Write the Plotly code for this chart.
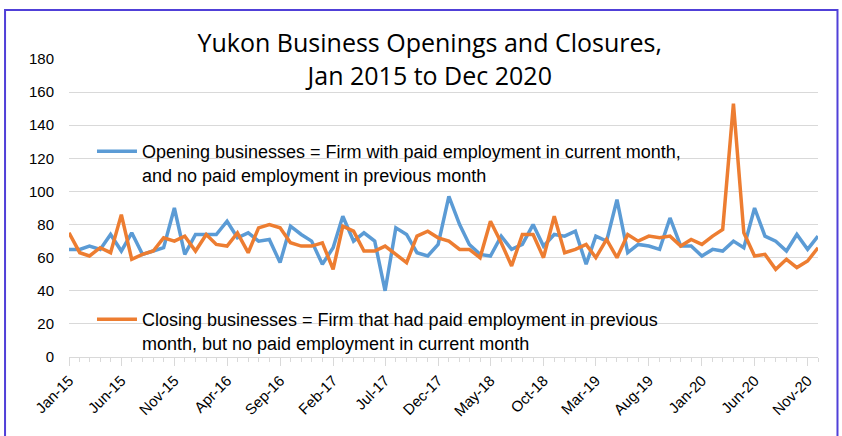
import pandas as pd
import plotly.graph_objects as go

# Months Jan 2015 .. Dec 2020
months = pd.date_range("2015-01-01", periods=72, freq="MS")

opening = [65, 65, 67, 65, 74, 64, 75, 62, 64, 66, 90, 62,
           74, 74, 74, 82, 72, 75, 70, 71, 57, 79, 74, 70,
           56, 66, 85, 70, 75, 70, 40, 78, 74, 63, 61, 68,
           97, 80, 68, 62, 61, 73, 65, 68, 80, 67, 74, 73,
           76, 56, 73, 70, 95, 63, 68, 67, 65, 84, 67, 67,
           61, 65, 64, 70, 66, 90, 73, 70, 64, 74, 65, 73]

closing = [75, 63, 61, 66, 63, 86, 59, 62, 64, 72, 70, 73,
           64, 74, 68, 67, 75, 63, 78, 80, 78, 69, 67, 67,
           69, 53, 79, 76, 64, 64, 67, 62, 57, 73, 76, 72,
           70, 65, 65, 60, 82, 69, 55, 74, 74, 60, 85, 63,
           65, 68, 60, 71, 60, 74, 70, 73, 72, 73, 67, 71,
           68, 73, 77, 153, 75, 61, 62, 53, 59, 54, 58, 66]

open_label = "Opening businesses = Firm with paid employment in current month,<br>and no paid employment in previous month"
close_label = "Closing businesses = Firm that had paid employment in previous<br>month, but no paid employment in current month"
title_text = "Yukon Business Openings and Closures,<br>Jan 2015 to Dec 2020"

y_ticks = list(range(0, 181, 20))

W, H = 842, 436
L, R, T, B = 69, 23.5, 59, 79
pw, ph = W - L - R, H - T - B

def px_x(p):
    return (p - L) / pw

def px_y(p):
    return (H - B - p) / ph

fig = go.Figure()
fig.add_trace(go.Scatter(x=months, y=opening, mode="lines", name=open_label,
                         line=dict(color="#5B9BD5", width=3.5), legend="legend"))
fig.add_trace(go.Scatter(x=months, y=closing, mode="lines", name=close_label,
                         line=dict(color="#ED7D31", width=3.5), legend="legend2"))

legend_font = dict(family="Liberation Sans, Arial", size=18, color="#000000")

fig.update_layout(
    width=W, height=H,
    margin=dict(l=L, r=R, t=T, b=B),
    paper_bgcolor="white", plot_bgcolor="white",
    title=dict(text=title_text, x=px_x(430), xref="paper", xanchor="center",
               y=1 - 52 / H, yref="container", yanchor="middle",
               font=dict(family="Open Sans", size=25, color="#000000")),
    showlegend=True,
    legend=dict(x=px_x(92), y=px_y(133), xanchor="left", yanchor="top",
                bgcolor="rgba(0,0,0,0)", font=legend_font, valign="top",
                itemwidth=40),
    legend2=dict(x=px_x(92), y=px_y(301), xanchor="left", yanchor="top",
                 bgcolor="rgba(0,0,0,0)", font=legend_font, valign="top",
                 itemwidth=40),
    xaxis=dict(type="date", range=[months[0], months[-1]],
               tick0=months[0], dtick="M5", tickformat="%b-%y", tickangle=-45,
               ticks="outside", ticklen=8, tickcolor="#D9D9D9",
               showline=True, linecolor="#D9D9D9", linewidth=1,
               showgrid=False, zeroline=False,
               tickfont=dict(family="Liberation Sans, Arial", size=15, color="#000000"),
               minor=dict(dtick="M1", ticks="outside", ticklen=4, tickcolor="#D9D9D9",
                          showgrid=False)),
    yaxis=dict(range=[0, 180], tickvals=y_ticks, showgrid=True,
               gridcolor="#D9D9D9", gridwidth=1, zeroline=False,
               showline=False, ticks="", ticklabelstandoff=14,
               tickfont=dict(family="Liberation Sans, Arial", size=15, color="#000000")),
    shapes=[dict(type="rect", xref="paper", yref="paper",
                 x0=px_x(5), x1=px_x(838), y0=px_y(460), y1=px_y(10),
                 line=dict(color="#5040D8", width=2), fillcolor="rgba(0,0,0,0)",
                 layer="above")],
)

fig.write_html("out.html", config={"displayModeBar": False},
               post_script="document.body.style.margin='0';")
